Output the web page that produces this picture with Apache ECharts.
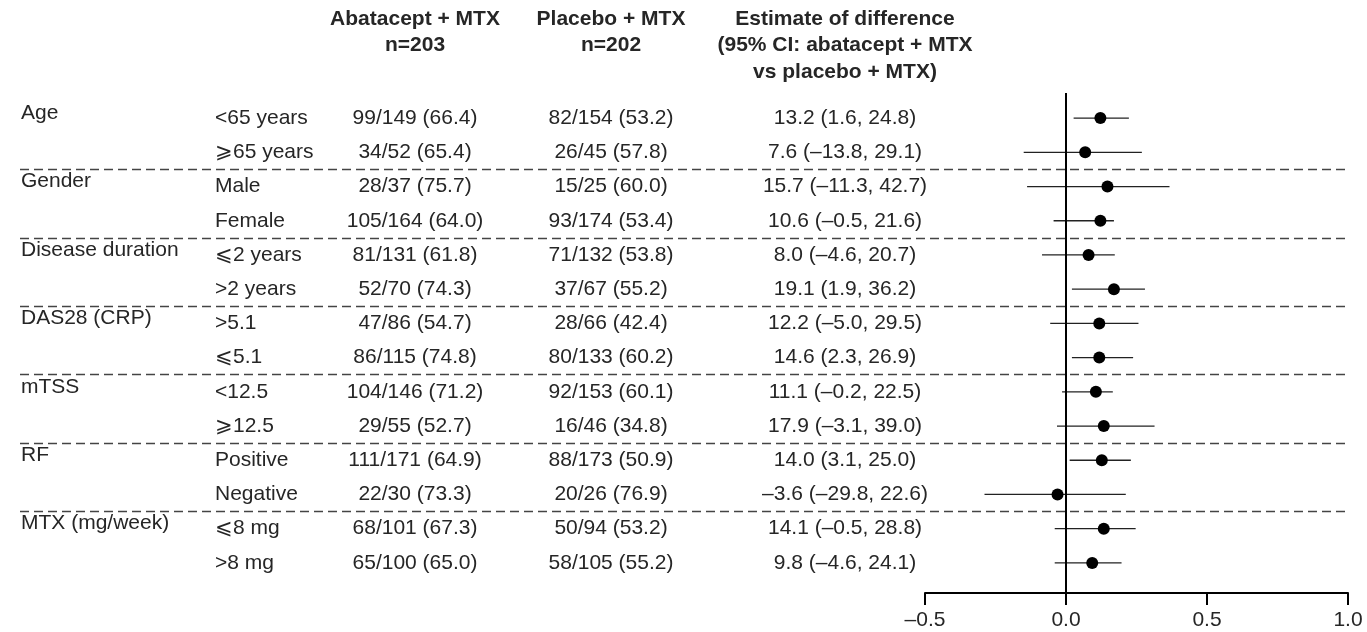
<!DOCTYPE html>
<html>
<head>
<meta charset="utf-8">
<script src="https://cdn.jsdelivr.net/npm/echarts@6/dist/echarts.min.js"></script>
<style>html,body{margin:0;padding:0;background:#fff}#c{width:1367px;height:632px}</style>
</head>
<body>
<div id="c"></div>
<script>
// ---- data ----
const groupLabels = ['Age', '', 'Gender', '', 'Disease duration', '', 'DAS28 (CRP)', '', 'mTSS', '', 'RF', '', 'MTX (mg/week)', ''];
const subgroups = ['<65 years', '⩾65 years', 'Male', 'Female', '⩽2 years', '>2 years', '>5.1', '⩽5.1', '<12.5', '⩾12.5', 'Positive', 'Negative', '⩽8 mg', '>8 mg'];
const abataceptText = ['99/149 (66.4)', '34/52 (65.4)', '28/37 (75.7)', '105/164 (64.0)', '81/131 (61.8)', '52/70 (74.3)', '47/86 (54.7)', '86/115 (74.8)', '104/146 (71.2)', '29/55 (52.7)', '111/171 (64.9)', '22/30 (73.3)', '68/101 (67.3)', '65/100 (65.0)'];
const placeboText = ['82/154 (53.2)', '26/45 (57.8)', '15/25 (60.0)', '93/174 (53.4)', '71/132 (53.8)', '37/67 (55.2)', '28/66 (42.4)', '80/133 (60.2)', '92/153 (60.1)', '16/46 (34.8)', '88/173 (50.9)', '20/26 (76.9)', '50/94 (53.2)', '58/105 (55.2)'];
const estimateText = ['13.2 (1.6, 24.8)', '7.6 (–13.8, 29.1)', '15.7 (–11.3, 42.7)', '10.6 (–0.5, 21.6)', '8.0 (–4.6, 20.7)', '19.1 (1.9, 36.2)', '12.2 (–5.0, 29.5)', '14.6 (2.3, 26.9)', '11.1 (–0.2, 22.5)', '17.9 (–3.1, 39.0)', '14.0 (3.1, 25.0)', '–3.6 (–29.8, 22.6)', '14.1 (–0.5, 28.8)', '9.8 (–4.6, 24.1)'];
const pointEst = [0.122, 0.068, 0.147, 0.122, 0.080, 0.170, 0.118, 0.118, 0.106, 0.134, 0.127, -0.030, 0.134, 0.093];
const ciLow = [0.027, -0.150, -0.138, -0.044, -0.085, 0.021, -0.056, 0.021, -0.014, -0.032, 0.013, -0.289, -0.040, -0.040];
const ciHigh = [0.223, 0.269, 0.367, 0.170, 0.173, 0.280, 0.257, 0.238, 0.166, 0.314, 0.230, 0.212, 0.247, 0.197];
const xTicks = { min: -0.5, max: 1.0, interval: 0.5 };
const headerCol1 = ['Abatacept + MTX', 'n=203'];
const headerCol2 = ['Placebo + MTX', 'n=202'];
const headerCol3 = ['Estimate of difference', '(95% CI: abatacept + MTX', 'vs placebo + MTX)'];

// group separators (between groups), derived from group starts
const separators = groupLabels.map((g, i) => (g && i > 0) ? i - 0.5 : null).filter(v => v !== null);

// ---- styles ----
const FONT = '"Liberation Sans", Arial, Helvetica, sans-serif';
const TXT = '#262626';
const FS = 21;
const nRows = subgroups.length;

function textAxis(offset, align, arr) {
  return {
    type: 'category', gridIndex: 0, inverse: true, position: 'left', offset: offset,
    data: subgroups,
    axisLine: { show: false }, axisTick: { show: false },
    splitLine: { show: false },
    axisLabel: {
      show: true, interval: 0, margin: 0, align: align,
      fontFamily: FONT, fontSize: FS, color: TXT,
      formatter: (v, i) => arr[i]
    }
  };
}

const yAxes = [
  textAxis(-1, 'left', groupLabels.map(g => g + '\n')),
  textAxis(-195, 'left', subgroups),
  textAxis(-395, 'center', abataceptText),
  textAxis(-591, 'center', placeboText),
  textAxis(-825, 'center', estimateText),
  { type: 'value', gridIndex: 0, inverse: true, min: -0.5, max: nRows - 0.5, show: false },
  { type: 'value', gridIndex: 1, inverse: true, min: -0.734, max: 13.88, show: false }
];
yAxes[0].axisLabel.lineHeight = 10;

const headerGraphics = [];
const headerY = [19, 45.5, 72];
[[headerCol1, 415], [headerCol2, 611], [headerCol3, 845]].forEach(([lines, x]) => {
  lines.forEach((t, i) => {
    headerGraphics.push({
      type: 'text', x: x, y: headerY[i], silent: true,
      style: { text: t, align: 'center', verticalAlign: 'middle', fill: TXT, font: 'bold ' + FS + 'px ' + FONT }
    });
  });
});

const chart = echarts.init(document.getElementById('c'), null, { renderer: 'canvas' });
chart.setOption({
  backgroundColor: '#fff',
  animation: false,
  grid: [
    { left: 20, right: 17, top: 101, height: 479 },
    { left: 925, right: 19, top: 93, height: 500 }
  ],
  xAxis: [
    { type: 'value', gridIndex: 0, show: false, min: 0, max: 1 },
    {
      type: 'value', gridIndex: 1, min: xTicks.min, max: xTicks.max, interval: xTicks.interval,
      axisLine: { show: true, onZero: false, lineStyle: { color: '#000', width: 2 } },
      axisTick: { show: true, length: 12, lineStyle: { color: '#000', width: 2 } },
      splitLine: { show: false },
      axisLabel: {
        margin: 17, fontFamily: FONT, fontSize: FS, color: TXT,
        formatter: v => (v < 0 ? '–' : '') + Math.abs(v).toFixed(1)
      }
    }
  ],
  yAxis: yAxes,
  graphic: headerGraphics,
  series: [
    {
      type: 'scatter', xAxisIndex: 0, yAxisIndex: 5, silent: true,
      data: [], symbolSize: 0,
      markLine: {
        silent: true, symbol: 'none', label: { show: false },
        lineStyle: { type: [9, 5], color: '#444', width: 1.3 },
        data: separators.map(v => ({ yAxis: v }))
      }
    },
    {
      type: 'custom', xAxisIndex: 1, yAxisIndex: 6, silent: true,
      data: ciLow.map((lo, i) => [lo, ciHigh[i], i]),
      encode: { x: [0, 1], y: 2 },
      renderItem: (params, api) => {
        const p1 = api.coord([api.value(0), api.value(2)]);
        const p2 = api.coord([api.value(1), api.value(2)]);
        return { type: 'line', shape: { x1: p1[0], y1: p1[1], x2: p2[0], y2: p2[1] }, style: { stroke: '#222', lineWidth: 1.3 } };
      },
      z: 3
    },
    {
      type: 'scatter', xAxisIndex: 1, yAxisIndex: 6, silent: true,
      data: pointEst.map((v, i) => [v, i]),
      symbol: 'circle', symbolSize: 12,
      itemStyle: { color: '#000', opacity: 1 },
      z: 4,
      markLine: {
        silent: true, symbol: 'none', label: { show: false },
        lineStyle: { type: 'solid', color: '#000', width: 2 },
        data: [{ xAxis: 0 }]
      }
    }
  ]
});
</script>
</body>
</html>
